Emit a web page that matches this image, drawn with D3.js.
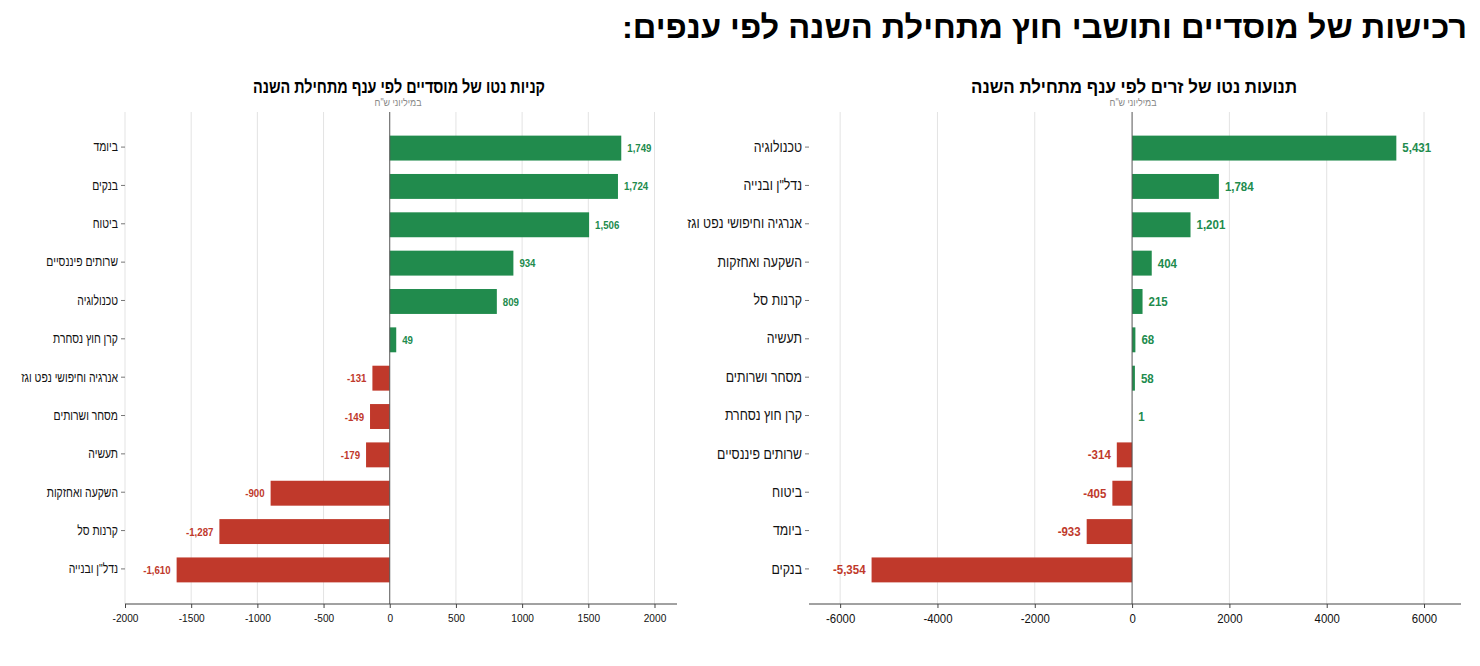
<!DOCTYPE html>
<html>
<head>
<meta charset="utf-8">
<script src="https://cdn.jsdelivr.net/npm/d3@7"></script>
<style>
  body { margin: 0; background: #fff; }
  svg { font-family: "Liberation Sans", "DejaVu Sans", sans-serif; }
</style>
</head>
<body>
<svg id="chart" width="1480" height="666"></svg>
<script>
// institutional investors - net buys by sector (millions NIS)
const instSectors = ['ביומד', 'בנקים', 'ביטוח', 'שרותים פיננסיים', 'טכנולוגיה', 'קרן חוץ נסחרת',
  'אנרגיה וחיפושי נפט וגז', 'מסחר ושרותים', 'תעשיה', 'השקעה ואחזקות', 'קרנות סל', 'נדל"ן ובנייה']
const instValues = [1749, 1724, 1506, 934, 809, 49, -131, -149, -179, -900, -1287, -1610]
const instTicks = [-2000, -1500, -1000, -500, 0, 500, 1000, 1500, 2000]

// foreign residents - net flows by sector
const forSectors = ['טכנולוגיה', 'נדל"ן ובנייה', 'אנרגיה וחיפושי נפט וגז', 'השקעה ואחזקות', 'קרנות סל',
  'תעשיה', 'מסחר ושרותים', 'קרן חוץ נסחרת', 'שרותים פיננסיים', 'ביטוח', 'ביומד', 'בנקים']
const forValues = [5431, 1784, 1201, 404, 215, 68, 58, 1, -314, -405, -933, -5354]
const forTicks = [-6000, -4000, -2000, 0, 2000, 4000, 6000]

const GREEN = '#218b4d'
const RED = '#c0392b'
const RLM = '\u200F'

const svg = d3.select('#chart')

// squeeze text horizontally, the original uses a condensed face
function condense (sel, k) {
  sel.each(function () {
    const w = this.getComputedTextLength()
    d3.select(this).attr('textLength', w * k).attr('lengthAdjust', 'spacingAndGlyphs')
  })
}

svg.append('text')
  .attr('x', 1467).attr('y', 38)
  .attr('text-anchor', 'end')
  .style('font-weight', 'bold')
  .style('font-size', '32px')
  .attr('textLength', 845)
  .attr('lengthAdjust', 'spacingAndGlyphs')
  .text('רכישות של מוסדיים ותושבי חוץ מתחילת השנה לפי ענפים:' + RLM)

/** Draw one horizontal diverging bar panel */
function drawPanel (opts) {
  const { cats, vals, ticks, domain, x0, x1, title, titleX, titleW, f } = opts
  const top = 112
  const bottom = 604

  const x = d3.scaleLinear().domain(domain).range([x0, x1])
  const y = d3.scaleBand().domain(cats).range([top, bottom])
    .paddingInner(0.35).paddingOuter(0.59)

  const g = svg.append('g')

  // grid
  g.selectAll('line.grid')
    .data(ticks.filter(t => t !== 0))
    .enter().append('line').classed('grid', true)
    .attr('x1', d => x(d)).attr('x2', d => x(d))
    .attr('y1', top).attr('y2', bottom)
    .attr('stroke', '#e3e3e3').attr('stroke-width', 1)

  // bars
  g.selectAll('rect.bar')
    .data(vals)
    .enter().append('rect').classed('bar', true)
    .attr('x', d => x(Math.min(0, d)))
    .attr('width', d => Math.abs(x(d) - x(0)))
    .attr('y', (d, i) => y(cats[i]) + 1)
    .attr('height', y.bandwidth())
    .attr('fill', d => d >= 0 ? GREEN : RED)

  // zero line
  g.append('line')
    .attr('x1', x(0)).attr('x2', x(0))
    .attr('y1', top).attr('y2', bottom)
    .attr('stroke', '#555').attr('stroke-width', 1)

  // value labels
  g.selectAll('text.val')
    .data(vals)
    .enter().append('text').classed('val', true)
    .attr('x', d => d >= 0 ? x(d) + 6 : x(d) - 6)
    .attr('y', (d, i) => y(cats[i]) + 1 + y.bandwidth() / 2)
    .attr('dy', '0.35em')
    .attr('text-anchor', d => d >= 0 ? 'start' : 'end')
    .attr('fill', d => d >= 0 ? GREEN : RED)
    .style('font-weight', 'bold')
    .style('font-size', f.val + 'px')
    .text(d => d3.format(',')(d).replace('−', '-'))
    .call(condense, f.valK)

  // x axis
  const xAxis = g.append('g')
    .attr('transform', `translate(0,${bottom})`)
    .call(d3.axisBottom(x).tickValues(ticks).tickSize(4).tickPadding(6).tickFormat(d => String(d)))
  xAxis.select('.domain').attr('stroke', '#444').attr('d', `M${x0},0H${x1}`)
  xAxis.selectAll('.tick line').attr('stroke', '#444')
  xAxis.selectAll('text').style('font-size', f.tick + 'px').attr('fill', '#111').call(condense, f.tickK)

  // y axis
  const yAxis = g.append('g')
    .attr('transform', `translate(${x0},0)`)
    .call(d3.axisLeft(y).tickSize(4).tickPadding(3))
  yAxis.select('.domain').remove()
  yAxis.selectAll('.tick line').attr('stroke', '#777')
  yAxis.selectAll('text').style('font-size', f.cat + 'px').attr('fill', '#111').call(condense, f.catK)

  // titles
  svg.append('text')
    .attr('x', titleX).attr('y', 93)
    .attr('text-anchor', 'middle')
    .style('font-weight', 'bold').style('font-size', '18px')
    .attr('textLength', titleW).attr('lengthAdjust', 'spacingAndGlyphs')
    .text(title)
  svg.append('text')
    .attr('x', titleX - 1).attr('y', 106)
    .attr('text-anchor', 'middle')
    .style('font-size', '10.5px').attr('fill', '#888')
    .text('במיליוני ש"ח')
    .call(condense, 0.85)
}

drawPanel({
  cats: instSectors, vals: instValues, ticks: instTicks,
  domain: [-2000, 2170], x0: 125, x1: 677,
  title: 'קניות נטו של מוסדיים לפי ענף מתחילת השנה', titleX: 399, titleW: 292,
  f: { val: 11.5, valK: 0.84, tick: 11, tickK: 0.92, cat: 13.5, catK: 0.77 }
})

drawPanel({
  cats: forSectors, vals: forValues, ticks: forTicks,
  domain: [-6640, 6760], x0: 809, x1: 1461,
  title: 'תנועות נטו של זרים לפי ענף מתחילת השנה', titleX: 1134, titleW: 326,
  f: { val: 12.5, valK: 0.92, tick: 12, tickK: 0.95, cat: 14.5, catK: 0.85 }
})
</script>
</body>
</html>
